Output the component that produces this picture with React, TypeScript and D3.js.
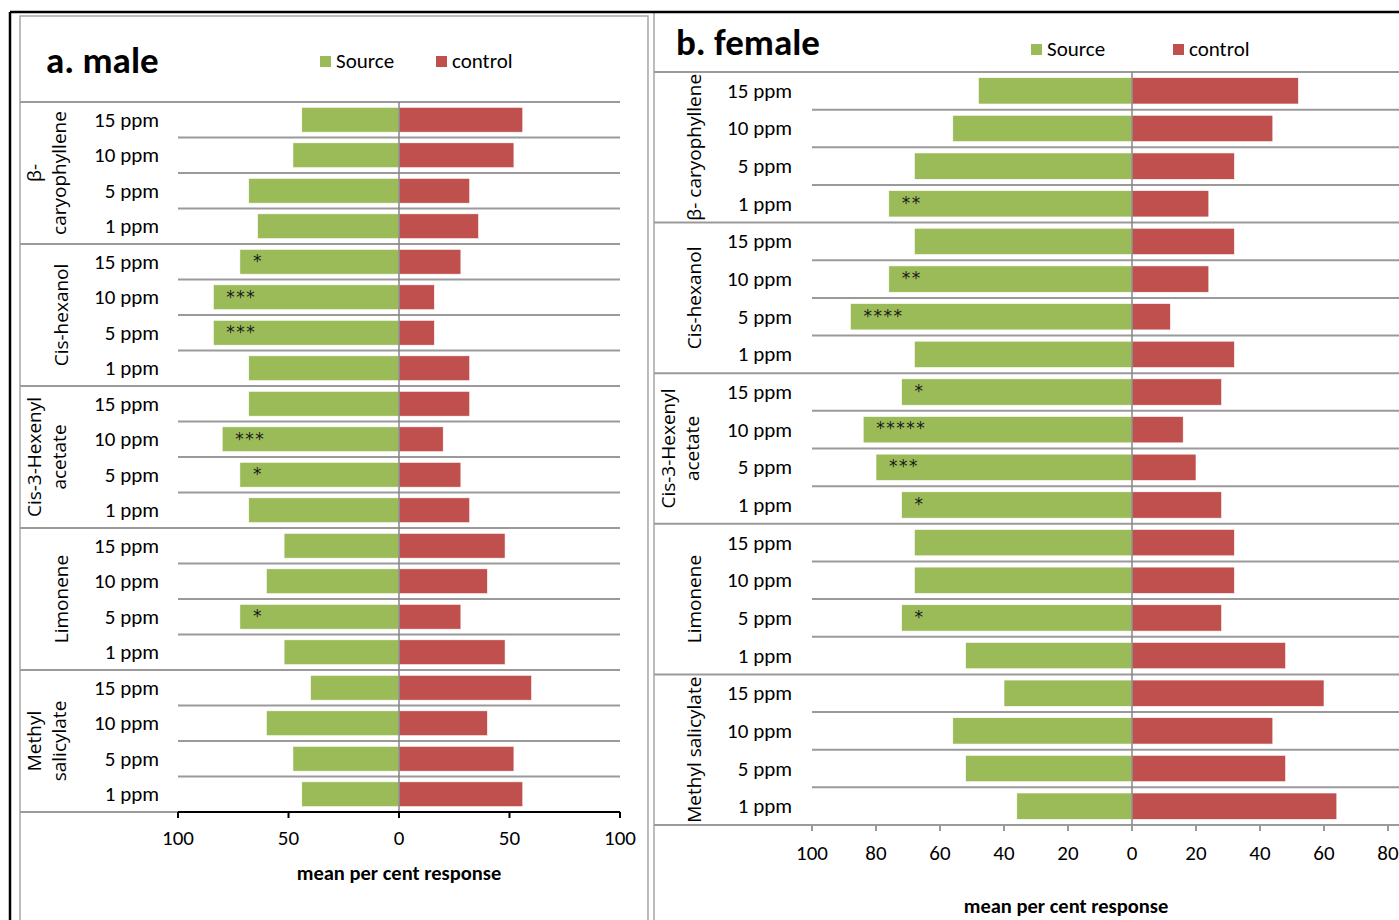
import React from "react";
import * as d3 from "d3";

// categories
const doses = ["15 ppm", "10 ppm", "5 ppm", "1 ppm"];
const maleGroupLines = [["β-", "caryophyllene"], ["Cis-hexanol"], ["Cis-3-Hexenyl", "acetate"], ["Limonene"], ["Methyl", "salicylate"]];
const femaleGroupLines = [["β- caryophyllene"], ["Cis-hexanol"], ["Cis-3-Hexenyl", "acetate"], ["Limonene"], ["Methyl salicylate"]];

// mean per cent response, rows in order 15,10,5,1 ppm per compound
const maleSource = [44, 48, 68, 64, 72, 84, 84, 68, 68, 80, 72, 68, 52, 60, 72, 52, 40, 60, 48, 44];
const maleControl = [56, 52, 32, 36, 28, 16, 16, 32, 32, 20, 28, 32, 48, 40, 28, 48, 60, 40, 52, 56];
const maleStars = ["", "", "", "", "*", "***", "***", "", "", "***", "*", "", "", "", "*", "", "", "", "", ""];

const femaleSource = [48, 56, 68, 76, 68, 76, 88, 68, 72, 84, 80, 72, 68, 68, 72, 52, 40, 56, 52, 36];
const femaleControl = [52, 44, 32, 24, 32, 24, 12, 32, 28, 16, 20, 28, 32, 32, 28, 48, 60, 44, 48, 64];
const femaleStars = ["", "", "", "**", "", "**", "****", "", "*", "*****", "***", "*", "", "", "*", "", "", "", "", ""];

const maleTicks = [-100, -50, 0, 50, 100];
const femaleTicks = [-100, -80, -60, -40, -20, 0, 20, 40, 60, 80];

const GREEN = "#9BBB59";
const RED = "#C0504D";
const GRID = "#9a9a9a";
const narrow = "Carlito, 'Liberation Sans Narrow', 'DejaVu Sans Condensed', 'Open Sans', sans-serif";
const wide = "'Open Sans', 'Noto Sans', 'DejaVu Sans', sans-serif";

const Panel = (props) => {
  const c = props.cfg;
  const rows = d3.range(props.source.length).map(String);
  const x = d3.scaleLinear().domain(c.domain).range([c.plotLeft, c.plotRight]);
  const y = d3.scaleBand().domain(rows).range([c.top, c.bottom]).paddingInner(0.3).paddingOuter(0.15);
  const step = y.step();
  const nGroups = props.groupLines.length;
  const per = doses.length;

  return (
    <g>
      <text x={c.titleX} y={c.titleY} fontFamily={narrow} fontWeight="bold" fontSize={37}>{c.title}</text>
      <rect x={c.legX[0]} y={c.legY - 6} width={11} height={11} fill={GREEN} />
      <text x={c.legX[0] + 16} y={c.legY + 6} fontFamily={narrow} fontSize={21}>Source</text>
      <rect x={c.legX[1]} y={c.legY - 6} width={11} height={11} fill={RED} />
      <text x={c.legX[1] + 16} y={c.legY + 6} fontFamily={narrow} fontSize={21}>control</text>

      {/* row separators */}
      {d3.range(1, rows.length).filter(i => i % per !== 0).map(i => (
        <line key={"r" + i} x1={c.plotLeft} x2={c.gridRight} y1={c.top + i * step} y2={c.top + i * step} stroke={GRID} strokeWidth={2} />
      ))}
      {/* group separators */}
      {d3.range(0, nGroups + (c.blackAxis ? 0 : 1)).map(g => (
        <line key={"g" + g} x1={c.panelLeft} x2={c.gridRight} y1={c.top + g * per * step} y2={c.top + g * per * step} stroke={GRID} strokeWidth={2} />
      ))}

      {props.source.map((v, i) => (
        <rect key={"s" + i} x={x(-v)} y={y(String(i))} width={x(0) - x(-v)} height={y.bandwidth()} fill={GREEN} stroke="#fff" strokeWidth={0.6} />
      ))}
      {props.control.map((v, i) => (
        <rect key={"c" + i} x={x(0)} y={y(String(i))} width={x(v) - x(0)} height={y.bandwidth()} fill={RED} stroke="#fff" strokeWidth={0.6} />
      ))}
      {props.stars.map((s, i) => s ? (
        <text key={"t" + i} x={x(-props.source[i]) + 13} y={y(String(i)) + 18} fontFamily="'DejaVu Sans', sans-serif" fontSize={17} letterSpacing={1.5} fill="#1a1a1a">{s}</text>
      ) : null)}
      <line x1={x(0)} x2={x(0)} y1={c.top} y2={c.bottom} stroke="#868686" strokeWidth={1.5} />

      {rows.map((r, i) => (
        <text key={"l" + i} x={c.catX} y={y(r) + y.bandwidth() / 2 + 7} textAnchor="end" fontFamily={narrow} fontSize={21}>{doses[i % per]}</text>
      ))}

      {props.groupLines.map((lines, g) => {
        const cy = c.top + (g + 0.5) * per * step;
        const xs = lines.length === 1 ? [c.groupX[1] + 2] : c.groupX;
        return lines.map((t, k) => (
          <text key={"gl" + g + k} transform={`translate(${xs[k] + 7},${cy}) rotate(-90)`} textAnchor="middle" fontFamily={wide} fontSize={19}>{t}</text>
        ));
      })}

      {/* x axis */}
      {c.blackAxis ? (
        <g>
          <line x1={c.panelLeft} x2={c.plotLeft} y1={c.bottom} y2={c.bottom} stroke={GRID} strokeWidth={2} />
          <line x1={c.plotLeft} x2={c.plotRight} y1={c.bottom} y2={c.bottom} stroke="#000" strokeWidth={2} />
        </g>
      ) : null}
      {props.ticks.map(t => (
        <g key={"k" + t}>
          <line x1={x(t)} x2={x(t)} y1={c.bottom} y2={c.bottom + 6} stroke={c.blackAxis ? "#000" : GRID} strokeWidth={2} />
          <text x={x(t)} y={c.tickY} textAnchor="middle" fontFamily={narrow} fontSize={21}>{Math.abs(t)}</text>
        </g>
      ))}
      <text x={c.axisTitleX} y={c.axisTitleY} textAnchor="middle" fontFamily={narrow} fontWeight="bold" fontSize={20.5}>mean per cent response</text>
    </g>
  );
};

const maleCfg = {
  title: "a. male", titleX: 46, titleY: 73,
  legX: [320, 436], legY: 62,
  panelLeft: 20, plotLeft: 178, plotRight: 620, gridRight: 620,
  top: 102, bottom: 812, domain: [-100, 100],
  catX: 159, groupX: [34, 59],
  tickY: 845, axisTitleX: 399, axisTitleY: 880, blackAxis: true
};

const femaleCfg = {
  title: "b. female", titleX: 676, titleY: 55,
  legX: [1031, 1173], legY: 50,
  panelLeft: 654, plotLeft: 812, plotRight: 1388, gridRight: 1399,
  top: 72, bottom: 825, domain: [-100, 80],
  catX: 792, groupX: [668, 692],
  tickY: 860, axisTitleX: 1066, axisTitleY: 913, blackAxis: false
};

export default function App() {
  return (
    <svg width={1399} height={920} style={{ position: "absolute", left: 0, top: 0, background: "#fff" }}>
      <rect x={0} y={0} width={1399} height={920} fill="#fff" />
      {/* frames */}
      <rect x={20} y={16} width={628} height={920} fill="none" stroke="#a6a6a6" strokeWidth={1.5} />
      <line x1={654} x2={654} y1={12} y2={920} stroke="#a6a6a6" strokeWidth={1.5} />
      <line x1={10} x2={1399} y1={12} y2={12} stroke="#000" strokeWidth={2.5} />
      <line x1={10} x2={10} y1={12} y2={920} stroke="#000" strokeWidth={2.5} />
      <Panel cfg={maleCfg} source={maleSource} control={maleControl} stars={maleStars} groupLines={maleGroupLines} ticks={maleTicks} />
      <Panel cfg={femaleCfg} source={femaleSource} control={femaleControl} stars={femaleStars} groupLines={femaleGroupLines} ticks={femaleTicks} />
    </svg>
  );
}
